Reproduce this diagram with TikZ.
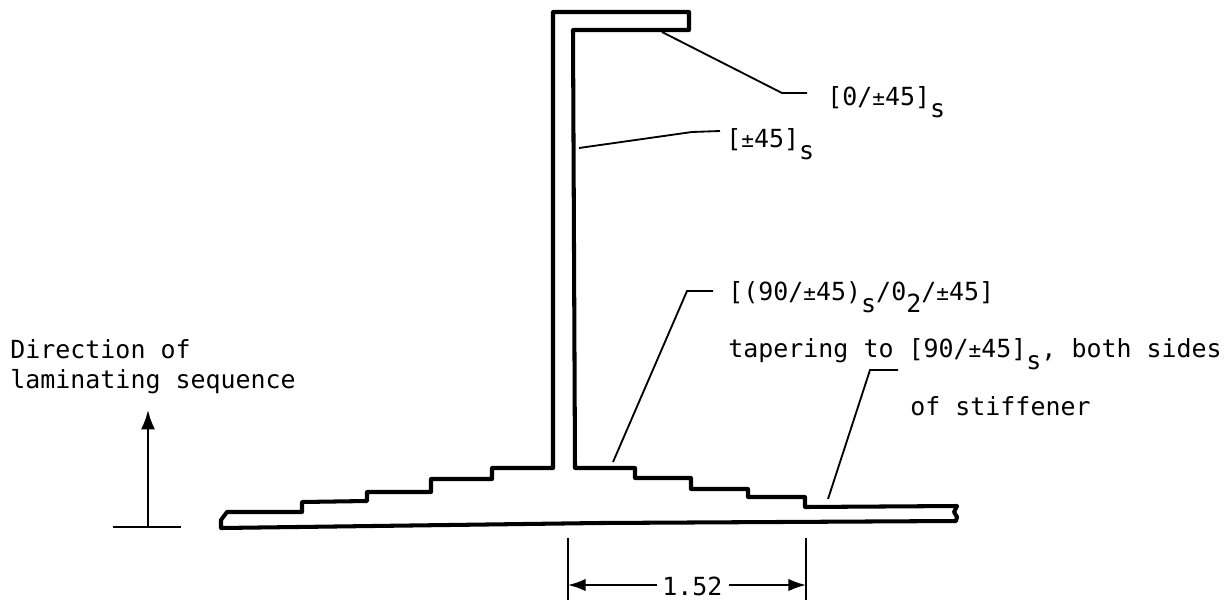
\documentclass[tikz,border=0pt]{standalone}
\usepackage{fontspec}
\setmonofont{DejaVu Sans Mono}
\usetikzlibrary{arrows.meta}
\newcommand{\lowered}[1]{\raisebox{-7.2pt}{#1}}
\newcommand{\smallpm}{{\fontsize{12}{12}\selectfont ±}}
\tikzset{
	profile/.style={line width=2.3pt, line join=round},
	leader/.style={line width=1.05pt},
	dimline/.style={line width=1.05pt},
	arrowline/.style={line width=1.3pt, -{Latex[length=11pt,width=8pt]}},
	lbl/.style={anchor=base west, inner sep=0pt, font=\ttfamily\fontsize{14.2}{17}\selectfont},
}
\begin{document}
\begin{tikzpicture}[x=0.02cm,y=-0.02cm]
\useasboundingbox (0,0) rectangle (1230,602);
% stiffener and skin
\draw[profile] (553,468) -- (553,12) -- (689,12) -- (689,30) -- (573,30) -- (575,468)
	-- (635,468) -- (635,478) -- (691,478) -- (691,489) -- (748,489) -- (748,497)
	-- (805,497) -- (805,507) -- (957,506) -- (954,512) -- (957,517) -- (956,521)
	-- (600,523) -- (221,528) -- (221,520) -- (227,512) -- (302,512) -- (302,502)
	-- (367,501) -- (367,492) -- (431,492) -- (431,479) -- (492,479) -- (492,468) -- cycle;
% labels
\node[lbl] (flange) at (827,105) {[0/\smallpm45]\lowered{s}};
\node[lbl] (web) at (726,147) {[\smallpm45]\lowered{s}};
\node[lbl] (root) at (728,300) {[(90/\smallpm45)\lowered{s}/0\lowered{2}/\smallpm45]};
\node[lbl] (taper) at (728,357) {tapering to [90/\smallpm45]\lowered{s}, both sides};
\node[lbl] (stiff) at (910,415) {of stiffener};
\node[lbl] (dirA) at (10,358) {Direction of};
\node[lbl] (dirB) at (10,388) {laminating sequence};
\node[lbl] (width) at (662,595) {1.52};
% leaders
\coordinate (flangetip) at (662,32);
\coordinate (flangeknee) at (782,93);
\coordinate (flangeend) at (807,93);
\coordinate (webtip) at (579,148);
\coordinate (webknee) at (692,132);
\coordinate (webend) at (720,131);
\coordinate (roottip) at (613,462);
\coordinate (rootknee) at (687,291);
\coordinate (rootend) at (713,291);
\coordinate (tapertip) at (828,499);
\coordinate (taperknee) at (870,370);
\coordinate (taperend) at (898,370);
\draw[leader] (flangetip) -- (flangeknee) -- (flangeend);
\draw[leader] (webtip) -- (webknee) -- (webend);
\draw[leader] (roottip) -- (rootknee) -- (rootend);
\draw[leader] (tapertip) -- (taperknee) -- (taperend);
% dimension
\coordinate (dimL) at (568,585);
\coordinate (dimR) at (806,585);
\draw[dimline] (568,538) -- (568,600);
\draw[dimline] (806,538) -- (806,600);
\draw[dimline, -{Latex[length=10pt,width=7pt]}] (width.west |- dimL) ++(-5,0) -- (dimL);
\draw[dimline, -{Latex[length=10pt,width=7pt]}] (width.east |- dimR) ++(6,0) -- (dimR);
% lamination direction
\coordinate (dirbase) at (148,527);
\coordinate (dirtip) at (148,410);
\draw[arrowline] (dirbase) -- (dirtip);
\draw[line width=1.3pt] (113,527) -- (181,527);
\end{tikzpicture}
\end{document}
